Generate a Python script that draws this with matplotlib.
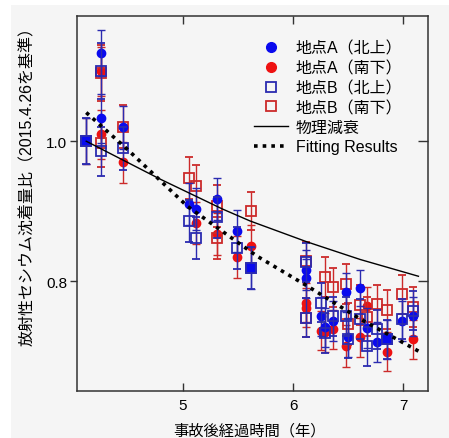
import matplotlib
matplotlib.use("Agg")
import matplotlib.pyplot as plt
from matplotlib.patches import Rectangle

plt.rcParams['font.family'] = ['Liberation Sans', 'Noto Sans CJK JP']

# ---------------------------------------------------------------------
# DATA
# ---------------------------------------------------------------------
a_n_x = [4.12, 4.25, 4.25, 4.45, 5.05, 5.12, 5.31, 5.49, 5.62, 6.12, 6.12, 6.25,
         6.29, 6.36, 6.48, 6.50, 6.61, 6.67, 6.76, 6.85, 6.99, 7.09]
a_n_y = [1.000, 1.126, 1.033, 1.020, 0.910, 0.903, 0.917, 0.871, 0.819, 0.816, 0.804, 0.750,
         0.734, 0.743, 0.784, 0.720, 0.790, 0.733, 0.713, 0.717, 0.743, 0.750]
a_n_e = [0.033, 0.033, 0.035, 0.031, 0.030, 0.030, 0.030, 0.030, 0.030, 0.028, 0.028, 0.028,
         0.028, 0.028, 0.028, 0.028, 0.026, 0.028, 0.028, 0.028, 0.028, 0.028]

a_s_x = [4.12, 4.25, 4.25, 4.45, 5.12, 5.31, 5.49, 5.62, 6.12, 6.12, 6.25, 6.29,
         6.36, 6.48, 6.61, 6.67, 6.85, 7.09]
a_s_y = [1.000, 1.100, 1.010, 0.970, 0.883, 0.867, 0.834, 0.850, 0.769, 0.762, 0.729, 0.727,
         0.731, 0.707, 0.720, 0.764, 0.699, 0.717]
a_s_e = [0.033, 0.035, 0.035, 0.029, 0.030, 0.030, 0.030, 0.030, 0.028, 0.028, 0.028, 0.028,
         0.028, 0.030, 0.028, 0.028, 0.028, 0.028]

b_n_x = [4.12, 4.25, 4.25, 4.45, 5.05, 5.12, 5.31, 5.49, 5.62, 6.12, 6.12, 6.25,
         6.29, 6.36, 6.48, 6.50, 6.61, 6.67, 6.76, 6.85, 6.99, 7.09]
b_n_y = [1.000, 1.101, 0.986, 0.990, 0.886, 0.861, 0.891, 0.847, 0.819, 0.827, 0.748, 0.769,
         0.726, 0.750, 0.750, 0.718, 0.746, 0.707, 0.731, 0.717, 0.746, 0.758]
b_n_e = [0.033, 0.040, 0.035, 0.031, 0.030, 0.030, 0.030, 0.030, 0.030, 0.028, 0.028, 0.028,
         0.028, 0.028, 0.028, 0.028, 0.028, 0.028, 0.028, 0.028, 0.028, 0.028]

b_s_x = [4.25, 4.25, 4.45, 5.05, 5.12, 5.31, 5.31, 5.62, 6.12, 6.12, 6.29, 6.36,
         6.48, 6.50, 6.61, 6.67, 6.76, 6.85, 6.99, 7.09]
b_s_y = [1.097, 0.998, 1.021, 0.947, 0.936, 0.907, 0.861, 0.900, 0.829, 0.748, 0.806, 0.791,
         0.796, 0.739, 0.766, 0.749, 0.767, 0.759, 0.781, 0.763]
b_s_e = [0.040, 0.035, 0.031, 0.030, 0.030, 0.030, 0.030, 0.027, 0.027, 0.028, 0.028, 0.028,
         0.028, 0.030, 0.028, 0.028, 0.028, 0.028, 0.028, 0.028]

# points where the blue marker looks like a solid square
solid_x = [4.12, 5.62, 6.85]
solid_y = [1.000, 0.819, 0.717]

phys_x = [4.12, 4.79, 5.36, 5.61, 6.13, 6.61, 7.14]
phys_y = [1.000, 0.946, 0.903, 0.886, 0.856, 0.831, 0.807]

fit_x = [4.12, 4.49, 5.04, 5.67, 6.13, 6.61, 7.14]
fit_y = [1.041, 0.989, 0.907, 0.836, 0.793, 0.746, 0.700]

labels = ["地点A（北上）", "地点A（南下）", "地点B（北上）", "地点B（南下）",
          "物理減衰", "Fitting Results"]

BLUE = "#0a0aee"
BLUE_E = "#2b2bb0"
RED = "#ee1111"
RED_E = "#cc2a2a"

# ---------------------------------------------------------------------
# FIGURE
# ---------------------------------------------------------------------
fig = plt.figure(figsize=(4.49, 4.39), dpi=100, facecolor="white")
fig.patches.append(Rectangle((11 / 449, 0), 1, 1 - 6 / 439, transform=fig.transFigure,
                             facecolor="#f5f5f5", edgecolor="none", zorder=-10))
ax = fig.add_axes([77 / 449, 47 / 439, 351 / 449, 375 / 439])
ax.set_facecolor("#f5f5f5")

ebkw = dict(linestyle="none", capsize=2.6, elinewidth=1.0, capthick=1.0)
ax.errorbar(a_s_x, a_s_y, yerr=a_s_e, marker="o", ms=6, color=RED, ecolor=RED_E,
            mec=RED, zorder=2, **ebkw)
ax.errorbar(b_s_x, b_s_y, yerr=b_s_e, marker="s", ms=7, mfc="none", mec=RED_E, mew=1.3,
            ecolor=RED_E, zorder=3, **ebkw)
ax.errorbar(a_n_x, a_n_y, yerr=a_n_e, marker="o", ms=6, color=BLUE, ecolor=BLUE_E,
            mec=BLUE, zorder=4, **ebkw)
ax.errorbar(b_n_x, b_n_y, yerr=b_n_e, marker="s", ms=7, mfc="none", mec=BLUE_E, mew=1.3,
            ecolor=BLUE_E, zorder=5, **ebkw)
ax.plot(solid_x, solid_y, "s", ms=7, color=BLUE, mec=BLUE_E, mew=1.3,
        linestyle="none", zorder=5.5)

ax.plot(phys_x, phys_y, color="black", lw=1.0, zorder=6)
ax.plot(fit_x, fit_y, color="black", lw=2.6, linestyle=(0, (1, 1.4)), zorder=7)

ax.set_xlim(4.036, 7.227)
ax.set_ylim(0.643, 1.179)
ax.set_xticks([5, 6, 7])
ax.set_yticks([0.8, 1.0])
ax.set_yticklabels(["0.8", "1.0"])

ax.tick_params(axis="x", direction="in", top=True, length=6, width=1.0,
               labelsize=11, pad=5, color="#333333")
ax.tick_params(axis="y", which="both", direction="out", length=5, width=1.0,
               labelsize=11, pad=2, color="#333333")
# right ticks point inward
ax2 = ax.secondary_yaxis("right")
ax2.set_yticks([0.8, 1.0])
ax2.tick_params(direction="in", length=7, width=1.0, labelright=False, color="#333333")
ax2.spines["right"].set_visible(False)

for s in ax.spines.values():
    s.set_color("#333333")
    s.set_linewidth(1.1)

fig.text(27 / 449, 1 - 183 / 439, "放射性セシウム沈着量比（2015.4.26を基準）",
         rotation=90, ha="center", va="center", fontsize=11.5)
fig.text(249 / 449, 1 - 431 / 439, "事故後経過時間（年）", ha="center", va="center",
         fontsize=11)

# legend
h1 = ax.plot([], [], "o", color=BLUE, ms=7)[0]
h2 = ax.plot([], [], "o", color=RED, ms=7)[0]
h3 = ax.plot([], [], "s", mfc="none", mec=BLUE_E, mew=1.3, ms=6.5)[0]
h4 = ax.plot([], [], "s", mfc="none", mec=RED_E, mew=1.3, ms=6.5)[0]
h5 = ax.plot([], [], color="black", lw=1.0)[0]
h6 = ax.plot([], [], color="black", lw=2.6, linestyle=(0, (1, 1.4)))[0]
ax.legend([h1, h2, h3, h4, h5, h6], labels, loc="upper left",
          bbox_to_anchor=(0.505, 0.935), frameon=False, fontsize=11.5,
          handlelength=2.1, handletextpad=0.5, labelspacing=0.29, borderpad=0,
          borderaxespad=0)

fig.savefig("out.png", dpi=100, facecolor=fig.get_facecolor())
